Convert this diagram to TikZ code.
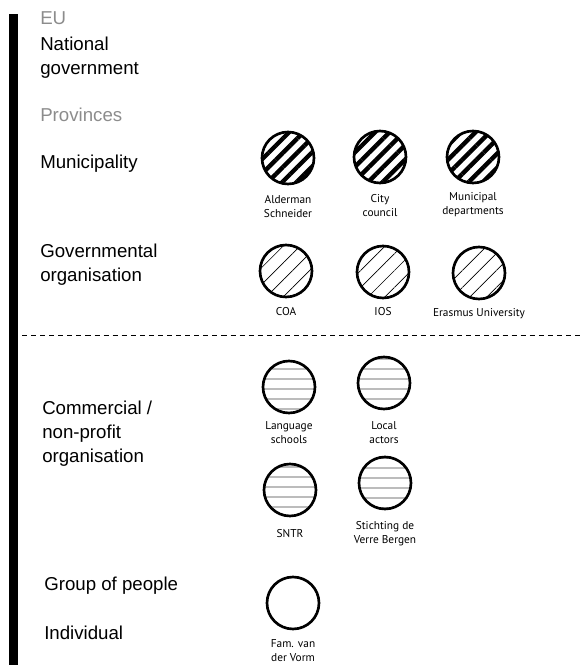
\documentclass[tikz,border=0pt]{standalone}
\usepackage{fontspec}
\setmainfont{Liberation Sans}
\newfontfamily\labfont{PT Sans}
\usetikzlibrary{patterns.meta}

\begin{document}
\begin{tikzpicture}[
  x=0.75pt, y=-0.75pt,
  level/.style={anchor=west, align=left, inner sep=0pt, font=\fontsize{14}{18}\selectfont},
  faded/.style={level, text=black!45},
  actor/.style={circle, draw, line width=2pt, minimum size=39pt, inner sep=0pt},
  municipal/.style={actor, pattern={Lines[angle=45, distance=7.6pt, line width=3.3pt]}},
  governmental/.style={actor, pattern={Lines[angle=45, distance=9pt, line width=0.5pt]}},
  commercial/.style={actor, pattern={Lines[angle=0, distance=7.4pt, line width=0.6pt]}, pattern color=black!75},
  lab/.style={align=center, inner sep=0pt, font=\labfont\fontsize{8.5}{10.5}\selectfont}
]
\useasboundingbox (0,0) rectangle (581,665);

% levels
\fill (9,14) rectangle (18,665);
\node[faded] (eu) at (40,18) {EU};
\node[level] (national) at (40,58) {National\\government};
\node[faded] (provinces) at (40,115) {Provinces};
\node[level] (municipality) at (40,164) {Municipality};
\node[level] (governmental) at (40,265) {Governmental\\organisation};
\draw[dash pattern=on 3.8pt off 3pt, line width=0.7pt] (22,335) -- (581,335);
\node[level] (commercial) at (42,434) {Commercial /\\non-profit\\organisation};
\node[level] (group) at (44,586) {Group of people};
\node[level] (individual) at (44,633) {Individual};

% actors
\node[municipal] (alderman) at (288,158) {};
\node[municipal] (council) at (380,157) {};
\node[municipal] (departments) at (473,157) {};
\node[lab, anchor=north] at ([yshift=-7pt]alderman.south) {Alderman\\Schneider};
\node[lab, anchor=north] at ([yshift=-7pt]council.south) {City\\council};
\node[lab, anchor=north] at ([yshift=-6pt]departments.south) {Municipal\\departments};

\node[governmental] (coa) at (286,271) {};
\node[governmental] (ios) at (383,272) {};
\node[governmental] (erasmus) at (479,273) {};
\node[lab, anchor=north] at ([yshift=-7pt]coa.south) {COA};
\node[lab, anchor=north] at ([yshift=-6pt]ios.south) {IOS};
\node[lab, anchor=north] at ([yshift=-6pt]erasmus.south) {Erasmus University};

\node[commercial] (language) at (289,387) {};
\node[commercial] (local) at (384,383) {};
\node[commercial] (sntr) at (290,490) {};
\node[commercial] (stichting) at (385,483) {};
\node[lab, anchor=north] at ([yshift=-6pt]language.south) {Language\\schools};
\node[lab, anchor=north] at ([yshift=-8pt]local.south) {Local\\actors};
\node[lab, anchor=north] at ([yshift=-9pt]sntr.south) {SNTR};
\node[lab, anchor=north] at ([yshift=-8pt]stichting.south) {Stichting de\\Verre Bergen};

\node[actor] (vorm) at (293,603) {};
\node[lab, anchor=north] at ([yshift=-7pt]vorm.south) {Fam. van\\der Vorm};
\end{tikzpicture}
\end{document}
